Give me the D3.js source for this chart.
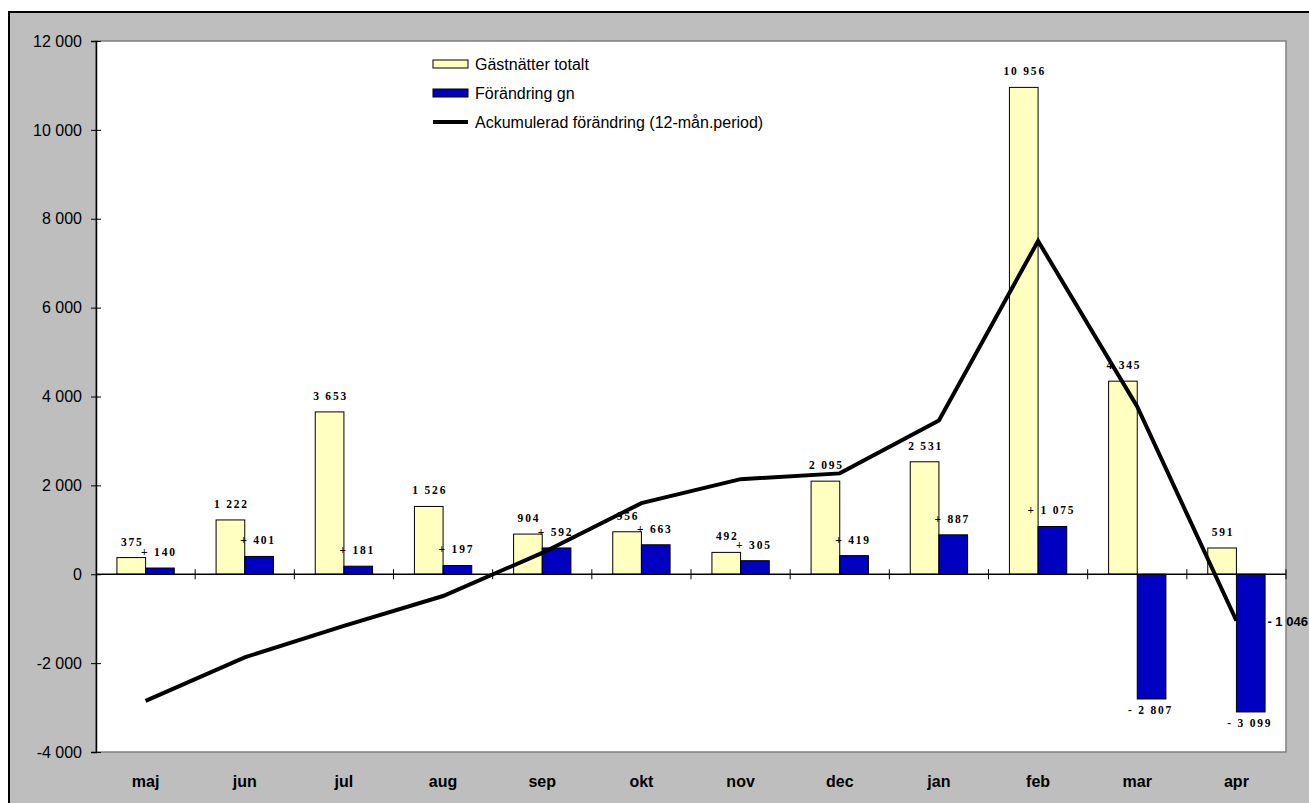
<!DOCTYPE html>
<html>
<head>
<meta charset="utf-8">
<script src="https://cdn.jsdelivr.net/npm/d3@7"></script>
<style>
  html, body { margin: 0; background: #fff; -webkit-print-color-adjust: exact; print-color-adjust: exact; }
  svg { display: block; }
</style>
</head>
<body>
<svg id="canvas" width="1309" height="803"></svg>
<script>
let months = ['maj', 'jun', 'jul', 'aug', 'sep', 'okt', 'nov', 'dec', 'jan', 'feb', 'mar', 'apr']
let gastnatter = [375, 1222, 3653, 1526, 904, 956, 492, 2095, 2531, 10956, 4345, 591]
let forandring = [140, 401, 181, 197, 592, 663, 305, 419, 887, 1075, -2807, -3099]
let ackumulerad = [-2850, -1870, -1160, -490, 480, 1600, 2140, 2270, 3460, 7500, 3770, -1046]
let yTicks = [-4000, -2000, 0, 2000, 4000, 6000, 8000, 10000, 12000]
let legendNames = ['Gästnätter totalt', 'Förändring gn', 'Ackumulerad förändring (12-mån.period)']

let yellow = '#ffffc0'
let blue = '#0000c0'
let grey = 'rgb(190, 190, 190)'

let locale = d3.formatLocale({decimal: ',', thousands: '\u00a0', grouping: [3], currency: ['', ''], minus: '-'})
let fmt = locale.format(',')

let svg = d3.select('#canvas')

let plotLeft = 96, plotRight = 1286, plotTop = 41, plotBottom = 752

// outer chart area: grey frame drawn as a thick band around the plot
let frame = svg.append('g').attr('class', 'frame')
frame.append('path')
    .attr('d', 'M9,12H1320V815H9Z M' + plotLeft + ',' + plotTop + 'V' + plotBottom + 'H' + plotRight + 'V' + plotTop + 'Z')
    .attr('fill', grey)
    .attr('fill-rule', 'evenodd')
frame.append('rect')
    .attr('x', 9).attr('y', 12)
    .attr('width', 1400).attr('height', 900)
    .attr('fill', 'none')
    .attr('stroke', '#000').attr('stroke-width', 2)

svg.append('rect')
    .attr('x', plotLeft).attr('y', plotTop)
    .attr('width', plotRight - plotLeft).attr('height', plotBottom - plotTop)
    .attr('fill', '#fff')
    .attr('stroke', '#808080').attr('stroke-width', 1.5)

let x = d3.scaleBand().domain(months).range([plotLeft, plotRight])
let sub = d3.scaleBand().domain(['g', 'f']).range([0, x.bandwidth()]).paddingInner(0).paddingOuter(0.73)
let y = d3.scaleLinear().domain([-4000, 12000]).range([plotBottom, plotTop])

// y axis
let yAxis = svg.append('g')
    .attr('transform', 'translate(' + plotLeft + ',0)')
    .call(d3.axisLeft(y).tickValues(yTicks).tickSize(5).tickPadding(9).tickFormat(fmt))
yAxis.select('.domain').attr('stroke', '#000').attr('stroke-width', 1.5)
yAxis.selectAll('.tick line').attr('x1', 5).attr('x2', -5).attr('stroke', '#000')
yAxis.selectAll('.tick text')
    .attr('font-family', 'Liberation Sans, Arial, sans-serif')
    .attr('font-size', 16)
    .attr('fill', '#000')

// x labels
let xAxis = svg.append('g')
    .attr('transform', 'translate(0,' + plotBottom + ')')
    .call(d3.axisBottom(x).tickSize(0).tickPadding(24))
xAxis.select('.domain').remove()
xAxis.selectAll('.tick text')
    .attr('font-family', 'Liberation Sans, Arial, sans-serif')
    .attr('font-size', 16)
    .attr('font-weight', 'bold')
    .attr('fill', '#000')

// bars
let groups = svg.selectAll('g.month')
    .data(months)
    .enter()
    .append('g')
    .attr('class', 'month')
    .attr('transform', (m) => 'translate(' + x(m) + ',0)')

groups.append('rect')
    .attr('x', sub('g'))
    .attr('width', sub.bandwidth())
    .attr('y', (m, i) => y(Math.max(0, gastnatter[i])))
    .attr('height', (m, i) => Math.abs(y(gastnatter[i]) - y(0)))
    .attr('fill', yellow)
    .attr('stroke', '#000').attr('stroke-width', 1)

groups.append('rect')
    .attr('x', sub('f'))
    .attr('width', sub.bandwidth())
    .attr('y', (m, i) => y(Math.max(0, forandring[i])))
    .attr('height', (m, i) => Math.abs(y(forandring[i]) - y(0)))
    .attr('fill', blue)
    .attr('stroke', '#000').attr('stroke-width', 1)

// zero line and category ticks
svg.append('line')
    .attr('x1', plotLeft).attr('x2', plotRight)
    .attr('y1', y(0)).attr('y2', y(0))
    .attr('stroke', '#000').attr('stroke-width', 1.5)

svg.selectAll('line.cat')
    .data(months)
    .enter()
    .append('line')
    .attr('class', 'cat')
    .attr('x1', (m) => x(m) + x.step()).attr('x2', (m) => x(m) + x.step())
    .attr('y1', y(0) - 5).attr('y2', y(0) + 5)
    .attr('stroke', '#000')

// bar labels
let labelFont = 'Liberation Serif, Times New Roman, serif'

groups.append('text')
    .text((m, i) => fmt(gastnatter[i]))
    .attr('x', sub('g') + sub.bandwidth() / 2 + 1)
    .attr('y', (m, i) => y(gastnatter[i]) - 12)
    .attr('text-anchor', 'middle')
    .attr('font-family', labelFont)
    .attr('font-weight', 'bold')
    .attr('font-size', 11.5)
    .attr('letter-spacing', 1.8)
    .attr('fill', '#000')

groups.append('text')
    .text((m, i) => (forandring[i] < 0 ? '- ' : '+ ') + fmt(Math.abs(forandring[i])))
    .attr('x', sub('f') + sub.bandwidth() / 2 - 1)
    .attr('y', (m, i) => forandring[i] < 0 ? y(forandring[i]) + 15 : y(forandring[i]) - 12)
    .attr('text-anchor', 'middle')
    .attr('font-family', labelFont)
    .attr('font-weight', 'bold')
    .attr('font-size', 11.5)
    .attr('letter-spacing', 1.8)
    .attr('fill', '#000')

// cumulative line
let line = d3.line()
    .x((d, i) => x(months[i]) + x.bandwidth() / 2)
    .y((d) => y(d))

svg.append('path')
    .datum(ackumulerad)
    .attr('d', line)
    .attr('fill', 'none')
    .attr('stroke', '#000')
    .attr('stroke-width', 4)

let last = ackumulerad.length - 1
svg.append('text')
    .text('- ' + fmt(Math.abs(ackumulerad[last])))
    .attr('x', x(months[last]) + x.bandwidth() / 2 + 31)
    .attr('y', y(ackumulerad[last]) + 5)
    .attr('font-family', 'Liberation Sans, Arial, sans-serif')
    .attr('font-weight', 'bold')
    .attr('font-size', 13)
    .attr('fill', '#000')

// legend
let legend = svg.selectAll('g.legend')
    .data(legendNames)
    .enter()
    .append('g')
    .attr('class', 'legend')
    .attr('transform', (d, i) => 'translate(433,' + (64 + i * 29) + ')')

legend.each(function (d, i) {
    let g = d3.select(this)
    if (i < 2) {
        g.append('rect')
            .attr('x', 0).attr('y', -4)
            .attr('width', 35).attr('height', 8)
            .attr('fill', i === 0 ? yellow : blue)
            .attr('stroke', '#000').attr('stroke-width', 1)
    } else {
        g.append('line')
            .attr('x1', 0).attr('x2', 35)
            .attr('y1', 0).attr('y2', 0)
            .attr('stroke', '#000').attr('stroke-width', 4)
    }
    g.append('text')
        .text(d)
        .attr('x', 42)
        .attr('y', 0)
        .attr('dy', '0.35em')
        .attr('font-family', 'Liberation Sans, Arial, sans-serif')
        .attr('font-size', 16)
        .attr('fill', '#000')
})
</script>
</body>
</html>
